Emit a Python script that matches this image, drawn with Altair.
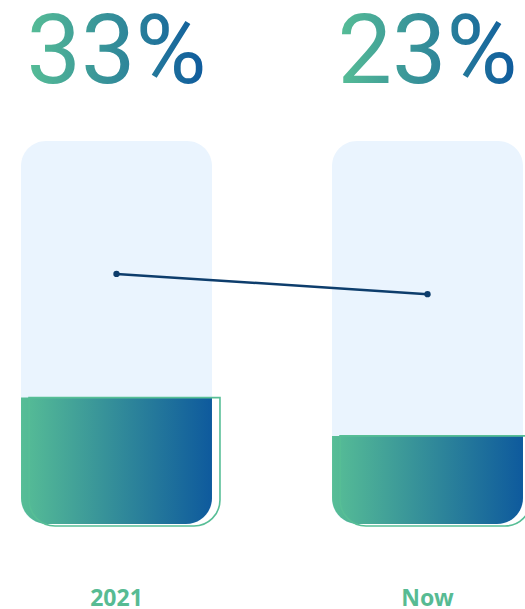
import altair as alt
import pandas as pd

categories = ["2021", "Now"]
fill_values = [33, 23]
line_values = [65.3, 60.0]
pct_labels = ["33%", "23%"]
glass_full = [100, 100]

df = pd.DataFrame({
    "cat": categories,
    "fill": fill_values,
    "line": line_values,
    "pct": pct_labels,
    "full": glass_full,
    "zero": [0, 0],
})

green = "#57BE96"
blue = "#0E5A9D"
grad = alt.Gradient(
    gradient="linear",
    stops=[alt.GradientStop(color=green, offset=0), alt.GradientStop(color=blue, offset=1)],
    x1=0, x2=1, y1=0, y2=0,
)

xs = alt.X("cat:N", scale=alt.Scale(type="band", domain=categories, paddingInner=0.386,
                                     paddingOuter=0.037, align=0.913), axis=None)
ysc = alt.Scale(domain=[-22.19, 136.81], nice=False, zero=False)

base = alt.Chart(df)

glass = base.mark_bar(fill="#EAF4FE", cornerRadius=25).encode(
    x=xs, y=alt.Y("zero:Q", scale=ysc, axis=None), y2="full:Q")

fillbar = base.mark_bar(fill=grad, cornerRadiusBottomLeft=26, cornerRadiusBottomRight=26).encode(
    x=xs, y=alt.Y("zero:Q", scale=ysc, axis=None), y2="fill:Q")

outline = base.mark_bar(fill=None, fillOpacity=0, stroke=green, strokeWidth=1.6, xOffset=8, yOffset=2,
                        cornerRadiusBottomLeft=26, cornerRadiusBottomRight=26).encode(
    x=xs, y=alt.Y("zero:Q", scale=ysc, axis=None), y2="fill:Q")

line = base.mark_line(color="#0D3D6C", strokeWidth=2.5).encode(
    x=xs, y=alt.Y("line:Q", scale=ysc, axis=None))

points = base.mark_circle(color="#0D3D6C", size=40, opacity=1).encode(
    x=xs, y=alt.Y("line:Q", scale=ysc, axis=None))

pct = base.mark_text(fill=grad, font="Roboto", fontSize=97, fontWeight=400, baseline="alphabetic",
                     align="center", dy=-58).encode(
    x=xs, y=alt.Y("full:Q", scale=ysc, axis=None), text="pct:N")

catlab = base.mark_text(color="#57BB93", font="Noto Sans", fontSize=23, fontWeight="bold",
                        baseline="alphabetic", align="center", dy=82).encode(
    x=xs, y=alt.Y("zero:Q", scale=ysc, axis=None), text="cat:N")

chart = alt.layer(glass, fillbar, outline, line, points, pct, catlab).properties(
    width=525, height=609, padding=0, autosize=alt.AutoSizeParams(type="none")
).configure_view(stroke=None)

chart.save("out.html", embed_options={"renderer": "svg", "actions": False})
